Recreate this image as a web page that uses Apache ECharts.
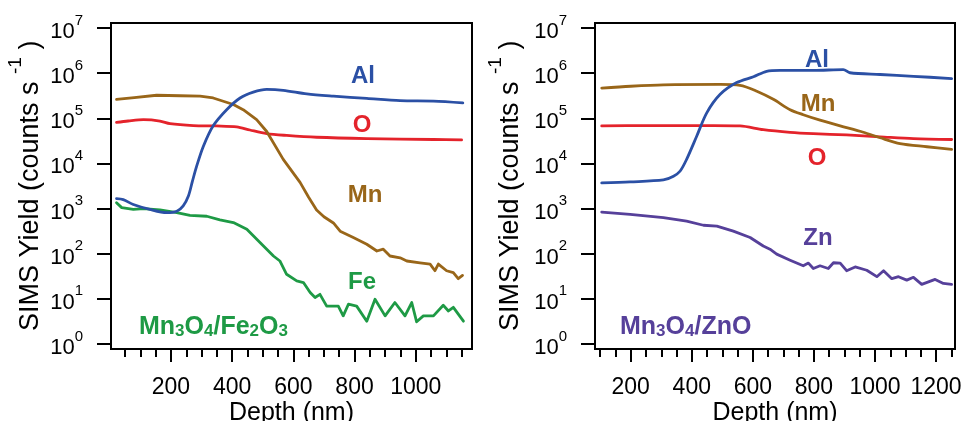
<!DOCTYPE html>
<html>
<head>
<meta charset="utf-8">
<script src="https://cdn.jsdelivr.net/npm/echarts@6/dist/echarts.min.js"></script>
<style>html,body{margin:0;padding:0;background:#fff;}#c{width:965px;height:421px;}</style>
</head>
<body>
<div id="c"></div>
<script>
// ---------- DATA ----------
// Left panel: Mn3O4/Fe2O3
const leftAlDepth = [22,44,77,131,186,219,240,257,270,284,306,338,382,426,469,513,567,644,731,840,949,1058,1154];
const leftAl      = [1660,1580,1230,955,810,870,1150,1900,4000,8700,24000,68000,155000,282000,380000,437000,417000,347000,309000,275000,245000,240000,219000];
const leftMnDepth = [22,80,153,230,295,338,404,436,480,513,567,622,650,676,700,731,753,796,840,873,894,916,949,971,1014,1047,1063,1074,1101,1123,1139,1153];
const leftMn      = [263000,288000,324000,316000,309000,282000,202000,155000,93000,51000,12300,3800,1780,930,660,480,316,229,162,115,126,89,81,69,63,59,42,59,42,38,28,33];
const leftODepth  = [22,60,110,164,197,273,349,415,458,513,578,676,840,1058,1150];
const leftO       = [81000,87000,93000,87000,76000,69000,67600,64600,55000,45700,41700,38000,35500,33900,33100];
const leftFeDepth = [22,39,77,110,164,219,262,317,360,404,448,491,535,556,578,611,633,655,671,687,709,747,763,780,807,840,867,900,932,965,987,1003,1025,1058,1090,1107,1123,1156];
const leftFe      = [1350,1050,955,1000,933,813,708,676,562,490,347,178,89,69,35,25,23,13.8,10.7,12.6,6.9,6.9,4.2,7.6,6.9,3.2,9.8,4.2,8.3,4.2,8.3,3.1,4.2,4.2,7.2,5.4,6.5,3.2];

// Right panel: Mn3O4/ZnO
const rightAlDepth = [105,198,307,340,362,383,416,449,493,547,602,645,689,798,896,918,1017,1126,1251];
const rightAl      = [3700,3900,4300,5200,6800,12300,40000,132000,339000,617000,832000,1100000,1150000,1150000,1200000,1020000,933000,851000,759000];
const rightMnDepth = [105,200,307,493,558,613,667,722,765,820,886,962,1017,1082,1170,1251];
const rightMn      = [468000,513000,550000,562000,537000,398000,263000,155000,120000,91000,68000,49000,37000,27500,23400,20400];
const rightODepth  = [105,252,471,558,634,722,798,907,1017,1126,1251];
const rightO       = [67600,69000,69000,67600,56000,49000,45700,42700,38900,35500,33900];
const rightZnDepth = [105,198,307,383,438,482,536,591,634,656,678,722,765,782,798,820,847,864,886,907,935,973,1006,1028,1055,1077,1104,1126,1153,1197,1224,1251];
const rightZn      = [830,740,630,525,427,407,316,229,148,126,98,72,54,62,47,54,47,63,62,42,51,43,31,42,28,31,26,30,21,27,22,21];

// Tick labels
const yTicks = [1,10,100,1000,10000,100000,1000000,10000000];
const leftXMajor  = [200,400,600,800,1000];
const leftXMinor  = [50,100,150,200,250,300,350,400,450,500,550,600,650,700,750,800,850,900,950,1000,1050,1100,1150];
const rightXMajor = [200,400,600,800,1000,1200];
const rightXMinor = [100,150,200,250,300,350,400,450,500,550,600,650,700,750,800,850,900,950,1000,1050,1100,1150,1200,1250];

// ---------- STYLE ----------
const FONT = '"Liberation Sans", Arial, Helvetica, sans-serif';
const C = {Al:'#2b50a5', O:'#e4232b', Mn:'#996619', Fe:'#1e9a45', Zn:'#56409a'};
const pair = (xs, ys) => xs.map((x, i) => [x, ys[i]]);

const yName = '{h| }{a|SIMS Yield (counts s }{s|-1}{a| )}';
const yNameStyle = {
  color:'#000', fontFamily: FONT,
  rich: {
    a: {fontSize: 27, lineHeight: 27, verticalAlign: 'bottom', fontFamily: FONT, color:'#000'},
    s: {fontSize: 19, lineHeight: 19, verticalAlign: 'top', fontFamily: FONT, color:'#000'},
    h: {fontSize: 1, lineHeight: 38}
  }
};
const yLabel = {
  margin: 28,
  customValues: yTicks,
  formatter: v => '{h| }{b|10}{s|' + Math.round(Math.log10(v)) + '}',
  rich: {
    b: {fontSize: 22, lineHeight: 22, verticalAlign: 'bottom', fontFamily: FONT, color:'#000'},
    s: {fontSize: 15, lineHeight: 15, verticalAlign: 'top', fontFamily: FONT, color:'#000'},
    h: {fontSize: 1, lineHeight: 30}
  }
};

function dataX(gridIndex, min, max, major) {
  return {
    type:'value', gridIndex, min, max, position:'bottom', offset: 5,
    axisLine:{show:true, onZero:false, lineStyle:{color:'#000', width:2}},
    axisTick:{show:true, customValues: major, length: 13, lineStyle:{color:'#000', width:2}},
    axisLabel:{customValues: major, margin: 27, fontSize: 23, color:'#000', fontFamily: FONT,
      formatter: v => String(v)},
    splitLine:{show:false},
    name:'Depth (nm)', nameLocation:'middle', nameGap: 52, nameMoveOverlap: false,
    nameTextStyle:{fontSize: 25, color:'#000', fontFamily: FONT}
  };
}
function minorX(gridIndex, min, max, minor) {
  return {
    type:'value', gridIndex, min, max, position:'bottom', offset: 5,
    axisLine:{show:false},
    axisTick:{show:true, customValues: minor, length: 8, lineStyle:{color:'#000', width:2}},
    axisLabel:{show:false}, splitLine:{show:false}
  };
}
function dataY(gridIndex, nameGap) {
  return {
    type:'log', logBase:10, gridIndex, min:1, max:1e7,
    axisLine:{show:true, onZero:false, lineStyle:{color:'#000', width:2}},
    axisTick:{show:true, customValues: yTicks, length: 14, lineStyle:{color:'#000', width:2}},
    axisLabel: yLabel,
    splitLine:{show:false}, minorTick:{show:false},
    name: yName, nameLocation:'middle', nameGap, nameMoveOverlap: false, nameTextStyle: yNameStyle
  };
}
const hidden = g => ({type:'value', gridIndex:g, show:false, min:0, max:1});
function line(name, xi, yi, data, color, smooth) {
  return {type:'line', name, xAxisIndex:xi, yAxisIndex:yi, data, showSymbol:false, symbol:'none',
    smooth: smooth || false,
    lineStyle:{color, width:2.8, join:'round', cap:'round'}, itemStyle:{color}, animation:false, z:3};
}
function lab(text, x, y, color) {
  return {type:'text', x, y, z:100, style:{text, fill:color, font:'bold 24px ' + FONT,
    align:'center', verticalAlign:'middle'}};
}
function formula(text, x, y, color) {
  return {type:'text', x, y, z:100, style:{text, fill:color, align:'left', verticalAlign:'middle',
    rich:{
      a:{fontSize:25, fontWeight:'bold', fontFamily:FONT, fill:color, color, lineHeight:25, verticalAlign:'bottom'},
      s:{fontSize:17, fontWeight:'bold', fontFamily:FONT, fill:color, color, lineHeight:17, verticalAlign:'bottom'}
    }}};
}
const gridBase = {containLabel:false, outerBoundsMode:'none'};

const chart = echarts.init(document.getElementById('c'), null, {renderer:'canvas'});
chart.setOption({
  backgroundColor:'#fff',
  animation:false,
  grid:[
    Object.assign({left:111, top:28, width:361, height:316, show:false}, gridBase),
    Object.assign({left:111, top:23, width:361, height:326, show:true, borderColor:'#000', borderWidth:2, backgroundColor:'transparent'}, gridBase),
    Object.assign({left:595, top:28, width:360, height:316, show:false}, gridBase),
    Object.assign({left:595, top:23, width:360, height:326, show:true, borderColor:'#000', borderWidth:2, backgroundColor:'transparent'}, gridBase)
  ],
  xAxis:[
    dataX(0, 4, 1184, leftXMajor),
    minorX(0, 4, 1184, leftXMinor),
    hidden(1),
    dataX(2, 83, 1262, rightXMajor),
    minorX(2, 83, 1262, rightXMinor),
    hidden(3)
  ],
  yAxis:[
    dataY(0, 67),
    hidden(1),
    dataY(2, 71),
    hidden(3)
  ],
  series:[
    line('O', 0, 0, pair(leftODepth, leftO), C.O, 0.3),
    line('Fe', 0, 0, pair(leftFeDepth, leftFe), C.Fe),
    line('Mn', 0, 0, pair(leftMnDepth, leftMn), C.Mn),
    line('Al', 0, 0, pair(leftAlDepth, leftAl), C.Al, 0.3),
    line('O', 3, 2, pair(rightODepth, rightO), C.O, 0.3),
    line('Zn', 3, 2, pair(rightZnDepth, rightZn), C.Zn),
    line('Mn', 3, 2, pair(rightMnDepth, rightMn), C.Mn, 0.3),
    line('Al', 3, 2, pair(rightAlDepth, rightAl), C.Al, 0.3)
  ],
  graphic:[
    lab('Al', 363, 76, C.Al), lab('O', 362, 125, C.O), lab('Mn', 365, 195, C.Mn), lab('Fe', 362, 282, C.Fe),
    formula('{a|Mn}{s|3}{a|O}{s|4}{a|/Fe}{s|2}{a|O}{s|3}', 139, 327, C.Fe),
    lab('Al', 817, 60, C.Al), lab('Mn', 818, 104, C.Mn), lab('O', 817, 158, C.O), lab('Zn', 818, 238, C.Zn),
    formula('{a|Mn}{s|3}{a|O}{s|4}{a|/ZnO}', 620, 327, C.Zn)
  ]
});
</script>
</body>
</html>
